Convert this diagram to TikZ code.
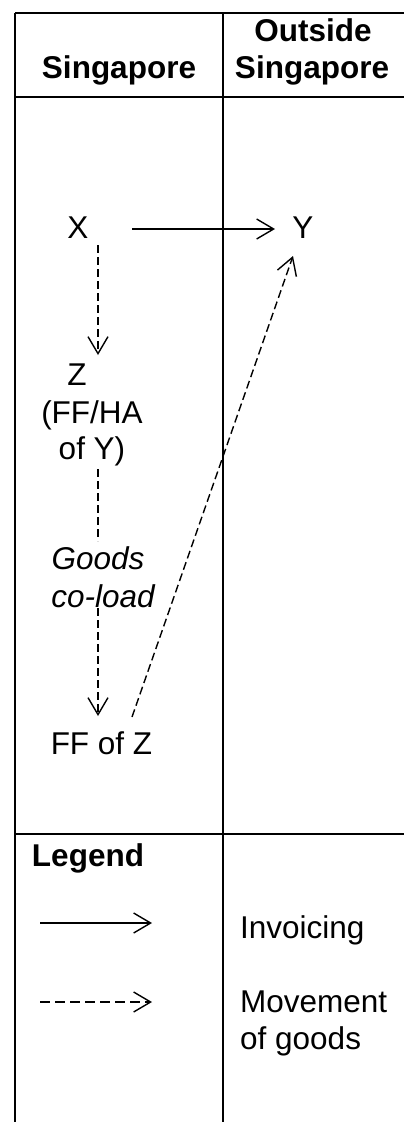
\documentclass[tikz,border=0pt]{standalone}
\usepackage{fontspec}
\setmainfont{Liberation Sans}
\usetikzlibrary{arrows.meta}
\begin{document}
\begin{tikzpicture}[x=1pt,y=-1pt,
  every node/.style={inner sep=0pt,anchor=base,font=\fontsize{31.5}{36}\selectfont},
  hdr/.style={font=\fontsize{31.5}{36}\selectfont\bfseries},
  grid/.style={line width=2.4pt},
  tip/.style={-{Straight Barb[length=17pt,width=20pt,line width=1.4pt]}},
  inv/.style={line width=1.4pt,tip},
  mov/.style={line width=1.4pt,dash pattern=on 8pt off 4pt,tip},
  link/.style={line width=1.4pt,dash pattern=on 8pt off 4pt}]
\useasboundingbox (0,0) rectangle (404,1122);
% table
\draw[grid] (15,13) -- (404,13);
\draw[grid] (15,97) -- (404,97);
\draw[grid] (15,834) -- (404,834);
\draw[grid] (15,13) -- (15,1122);
\draw[grid] (222.7,13) -- (222.7,1122);
% headers
\node[hdr] (hL) at (119,78) {Singapore};
\node[hdr] (hR1) at (313,41) {Outside};
\node[hdr] (hR2) at (312,78) {Singapore};
% parties
\node (X) at (78,238) {X};
\node (Y) at (303,238) {Y};
\node (Z) at (77,385) {Z};
\node (zi1) at (92,423) {(FF/HA};
\node (zi2) at (92,459) {of Y)};
\node[font=\fontsize{31.5}{36}\selectfont\itshape] (g1) at (98,569) {Goods};
\node[font=\fontsize{31.5}{36}\selectfont\itshape] (g2) at (103,607) {co-load};
\node (ffz) at (101.5,754) {FF of Z};
% connectors
\draw[inv] ([shift={(54,-9)}]X.base) -- ([shift={(-28,-9)}]Y.base);
\draw[mov] ([shift={(20,7)}]X.base) -- ([shift={(21,-30)}]Z.base);
\draw[link] ([shift={(6,10)}]zi2.base) -- ([shift={(0,-28)}]g1.base);
\draw[mov] ([shift={(-5,1)}]g2.base) -- ([shift={(-3.5,-38)}]ffz.base);
\draw[mov] ([shift={(30.5,-37)}]ffz.base) -- ([shift={(-10,18)}]Y.base);
% legend
\node[hdr] (leg) at (88,866) {Legend};
\coordinate (l1a) at (40,923);
\coordinate (l1b) at (152,923);
\coordinate (l2a) at (40,1002);
\coordinate (l2b) at (152,1002);
\draw[inv] (l1a) -- (l1b);
\draw[mov,dash pattern=on 10pt off 5pt] (l2a) -- (l2b);
\node[anchor=base west] (linv) at (240,938) {Invoicing};
\node[anchor=base west] (lmov1) at (240,1012) {Movement};
\node[anchor=base west] (lmov2) at (240,1049) {of goods};
\end{tikzpicture}
\end{document}
